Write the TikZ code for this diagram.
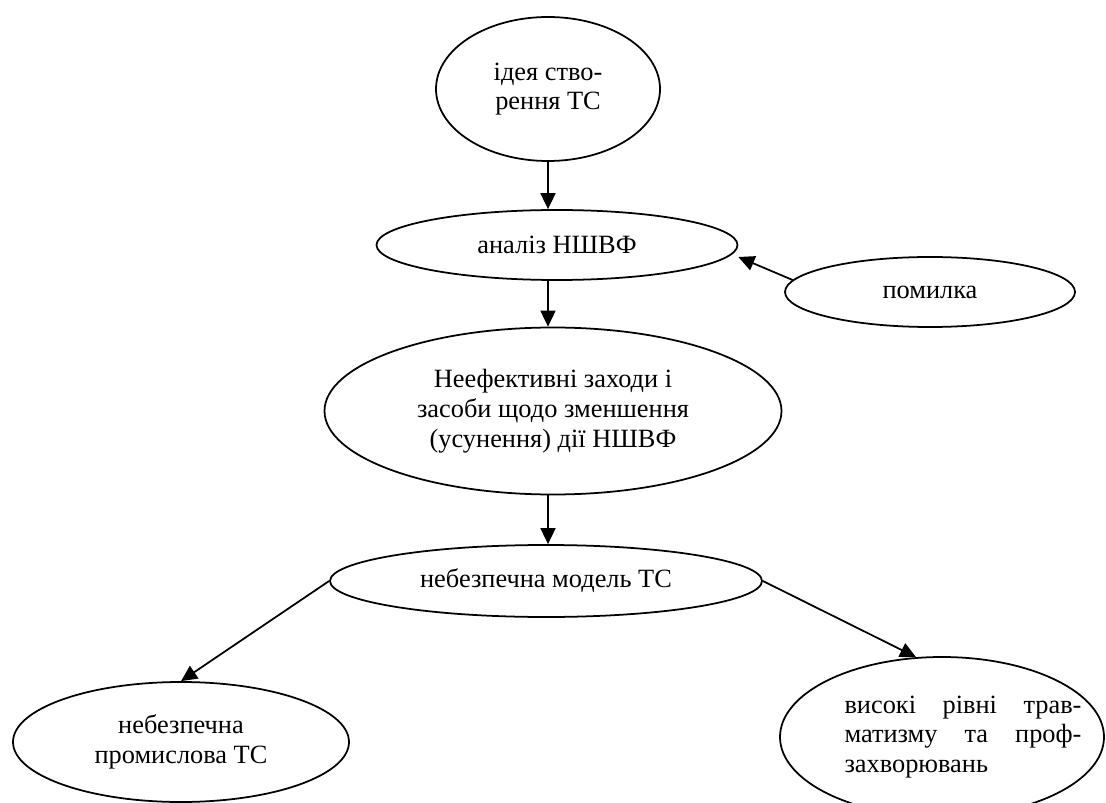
\documentclass[tikz,border=0pt]{standalone}
\usepackage{fontspec}
\setmainfont{Liberation Serif}
\usetikzlibrary{shapes.geometric,arrows.meta}
\tikzset{
  oval/.style={draw, ellipse, line width=1pt, inner sep=0pt, align=center,
    font=\fontsize{15}{17}\selectfont},
  arr/.style={line width=1pt, -{Triangle[length=0.32cm,width=0.3cm]}}
}
\begin{document}
\begin{tikzpicture}
\useasboundingbox (0,0) rectangle (22.12,-16.06);
\clip (0,0) rectangle (22.12,-16.06);
\node[oval, minimum width=4.48cm, minimum height=2.88cm] (top) at (10.96,-1.78) {\raisebox{8pt}{\begin{tabular}{@{}c@{}}ідея ство-\\рення ТС\end{tabular}}};
\node[oval, minimum width=7.22cm, minimum height=1.40cm] (anal) at (11.14,-4.90) {аналіз НШВФ};
\node[oval, minimum width=5.80cm, minimum height=1.40cm] (pom) at (18.60,-5.84) {помилка};
\node[oval, minimum width=9.14cm, minimum height=3.34cm] (nee) at (11.06,-8.22) {Неефективні заходи і\\засоби щодо зменшення\\(усунення) дії НШВФ};
\node[oval, minimum width=8.64cm, minimum height=1.44cm] (mod) at (10.92,-11.62) {небезпечна модель ТС};
\node[oval, minimum width=6.72cm, minimum height=2.40cm] (bl) at (3.62,-14.84) {небезпечна\\промислова ТС};
\node[oval, minimum width=6.48cm, minimum height=3.20cm] (br) at (18.84,-14.74) {\makebox[0pt]{\hspace*{0.84cm}\parbox{4.74cm}{\hyphenpenalty=10000\noindent високі рівні трав-\linebreak матизму та проф-\linebreak захворювань}}};
\draw[arr] (top.south) -- (top.south |- anal.north);
\draw[arr] (top.south |- anal.south) -- (top.south |- nee.north);
\draw[arr] (top.south |- nee.south) -- (top.south |- mod.north);
\draw[arr] (pom.175) -- ([yshift=-0.24cm]anal.east);
\draw[arr] (mod.west) -- (bl.north);
\draw[arr] (mod.east) -- (br.108);
\end{tikzpicture}
\end{document}
